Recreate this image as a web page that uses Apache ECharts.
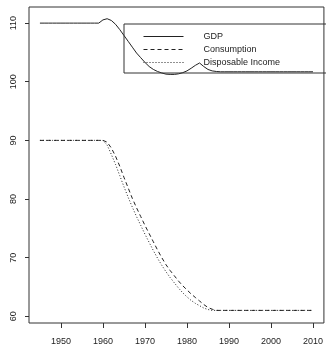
<!DOCTYPE html>
<html>
<head>
<meta charset="utf-8">
<script src="https://cdn.jsdelivr.net/npm/echarts@6/dist/echarts.min.js"></script>
<style>
html,body{margin:0;padding:0;background:#fff;}
#chart{width:326px;height:346px;}
</style>
</head>
<body>
<div id="chart"></div>
<script>
var years = [1945,1946,1947,1948,1949,1950,1951,1952,1953,1954,1955,1956,1957,1958,1959,
  1960,1961,1962,1963,1964,1965,1966,1967,1968,1969,1970,1971,1972,1973,1974,1975,1976,1977,1978,1979,
  1980,1981,1982,1983,1984,1985,1986,1987,1988,1989,1990,1991,1992,1993,1994,1995,1996,1997,1998,1999,
  2000,2001,2002,2003,2004,2005,2006,2007,2008,2009,2010];
var gdp = [110,110,110,110,110,110,110,110,110,110,110,110,110,110,110,
  110.55,110.75,110.45,109.8,108.9,107.9,106.9,105.9,104.9,104.1,103.3,102.6,102.1,101.75,101.5,101.3,101.25,101.25,101.35,101.55,
  101.85,102.3,102.8,103.2,102.6,102.1,101.85,101.75,101.7,101.7,101.7,101.7,101.7,101.7,101.7,101.7,101.7,101.7,101.7,101.7,
  101.7,101.7,101.7,101.7,101.7,101.7,101.7,101.7,101.7,101.7,101.7];
var consumption = [90,90,90,90,90,90,90,90,90,90,90,90,90,90,90,
  90,89.7,88.7,87.3,85.6,83.7,81.9,80.1,78.5,77.0,75.5,74.1,72.7,71.3,70.0,68.8,67.8,66.9,66.0,65.2,
  64.5,63.8,63.2,62.6,62.0,61.5,61.2,61,61,61,61,61,61,61,61,61,61,61,61,61,
  61,61,61,61,61,61,61,61,61,61,61];
var disposable = [90,90,90,90,90,90,90,90,90,90,90,90,90,90,90,
  90,89.2,87.6,85.9,84.0,82.1,80.3,78.6,77.0,75.5,74.0,72.6,71.2,69.9,68.7,67.6,66.6,65.7,64.8,64.0,
  63.3,62.7,62.2,61.8,61.4,61.15,61.0,61,61,61,61,61,61,61,61,61,61,61,61,61,
  61,61,61,61,61,61,61,61,61,61,61];
var xTicks = [1950,1960,1970,1980,1990,2000,2010];
var yTicks = [60,70,80,90,100,110];
var seriesNames = ['GDP','Consumption','Disposable Income'];

function pairs(vals){ return years.map(function(y,i){ return [y, vals[i]]; }); }

var chart = echarts.init(document.getElementById('chart'), null, {renderer:'canvas'});
var font = 'Liberation Sans, Arial, Helvetica, sans-serif';
chart.setOption({
  animation: false,
  backgroundColor: '#fff',
  grid: {left: 29, right: 1, top: 7, bottom: 20, show: true, borderColor: '#333', borderWidth: 1, backgroundColor: 'transparent'},
  xAxis: {
    type: 'value', min: 1942.4, max: 2012.6,
    splitLine: {show: false},
    axisLine: {show: false},
    axisTick: {show: true, length: 5, customValues: xTicks, lineStyle: {color: '#333'}},
    axisLabel: {customValues: xTicks, margin: 14, fontSize: 9, fontFamily: font, color: '#222',
      formatter: function(v){ return String(v); }}
  },
  yAxis: {
    type: 'value', min: 58.85, max: 112.75,
    splitLine: {show: false},
    axisLine: {show: false},
    axisTick: {show: true, length: 4, customValues: yTicks, lineStyle: {color: '#333'}},
    axisLabel: {customValues: yTicks, rotate: 90, margin: 11, fontSize: 9, fontFamily: font, color: '#222',
      formatter: function(v){ return String(v); }}
  },
  legend: {
    orient: 'vertical', left: 124, top: 24,
    padding: [8, 60, 6, 19],
    itemWidth: 40, itemHeight: 10, itemGap: 4,
    borderColor: '#333', borderWidth: 1, backgroundColor: 'transparent',
    itemStyle: {opacity: 0},
    lineStyle: {width: 1},
    textStyle: {fontSize: 9, fontFamily: font, color: '#222', padding: [0,0,0,15]},
    data: seriesNames
  },
  series: [
    {name: seriesNames[0], type: 'line', data: pairs(gdp), showSymbol: false, symbol: 'none',
     lineStyle: {color: '#222', width: 1, type: 'solid'}, itemStyle: {color: '#222'}},
    {name: seriesNames[1], type: 'line', data: pairs(consumption), showSymbol: false, symbol: 'none',
     lineStyle: {color: '#222', width: 1, type: [4,3]}, itemStyle: {color: '#222'}},
    {name: seriesNames[2], type: 'line', data: pairs(disposable), showSymbol: false, symbol: 'none',
     lineStyle: {color: '#222', width: 1, type: [1,2]}, itemStyle: {color: '#222'}}
  ]
});
</script>
</body>
</html>
